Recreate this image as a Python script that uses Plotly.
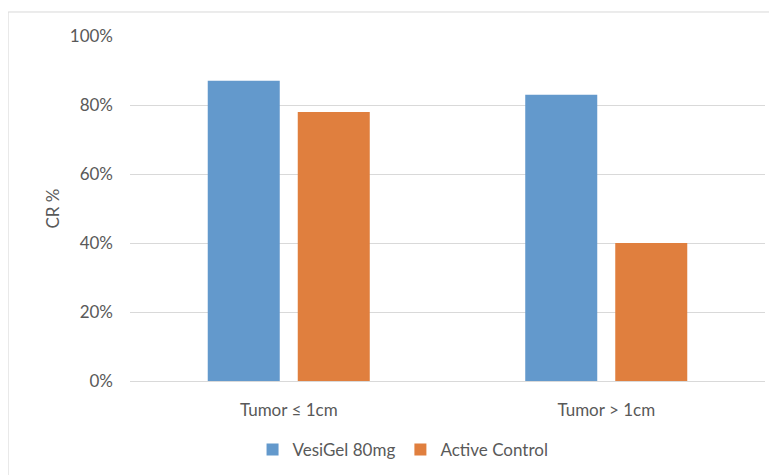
import plotly.graph_objects as go

categories = ["Tumor ≤ 1cm", "Tumor > 1cm"]
vesigel = [87, 83]
active = [78, 40]
y_ticks = [0, 20, 40, 60, 80, 100]
y_labels = ["0%", "20%", "40%", "60%", "80%", "100%"]

FONT = "Lato, Carlito, 'Open Sans', sans-serif"
GRAY = "#595959"
FS = 17

fig = go.Figure()
fig.add_trace(go.Bar(name="VesiGel 80mg", x=categories, y=vesigel,
                     marker=dict(color="#6399cc", line=dict(width=0))))
fig.add_trace(go.Bar(name="Active Control", x=categories, y=active,
                     marker=dict(color="#e07f3e", line=dict(width=0))))

fig.update_layout(
    width=769, height=467,
    margin=dict(l=122, r=12, t=28, b=94, autoexpand=False),
    paper_bgcolor="white", plot_bgcolor="white",
    barmode="group", bargap=0.433, bargroupgap=0.2,
    font=dict(family=FONT, size=FS, color=GRAY),
    showlegend=True,
    legend=dict(orientation="h", x=0.43, xanchor="center",
                yref="container", y=0.0535, yanchor="middle",
                font=dict(size=FS, color=GRAY), itemwidth=30, traceorder="normal"),
    shapes=[dict(type="rect", xref="paper", yref="paper",
                 x0=-0.192, x1=1.05, y0=-0.35, y1=1.0696,
                 line=dict(color="#d9d9d9", width=1), layer="below")],
)
fig.update_yaxes(range=[0, 100], tickvals=y_ticks, ticktext=y_labels,
                 showgrid=True, gridcolor="#d9d9d9", gridwidth=1,
                 zeroline=False, showline=False, ticklabelstandoff=16, automargin=False,
                 title=dict(text="CR %", standoff=5, font=dict(size=FS, color=GRAY)),
                 tickfont=dict(size=FS, color=GRAY))
fig.update_xaxes(showline=True, linecolor="#d9d9d9", linewidth=1, showgrid=False,
                 ticklabelstandoff=14, automargin=False, tickfont=dict(size=FS, color=GRAY))

fig.write_html("out.html")
